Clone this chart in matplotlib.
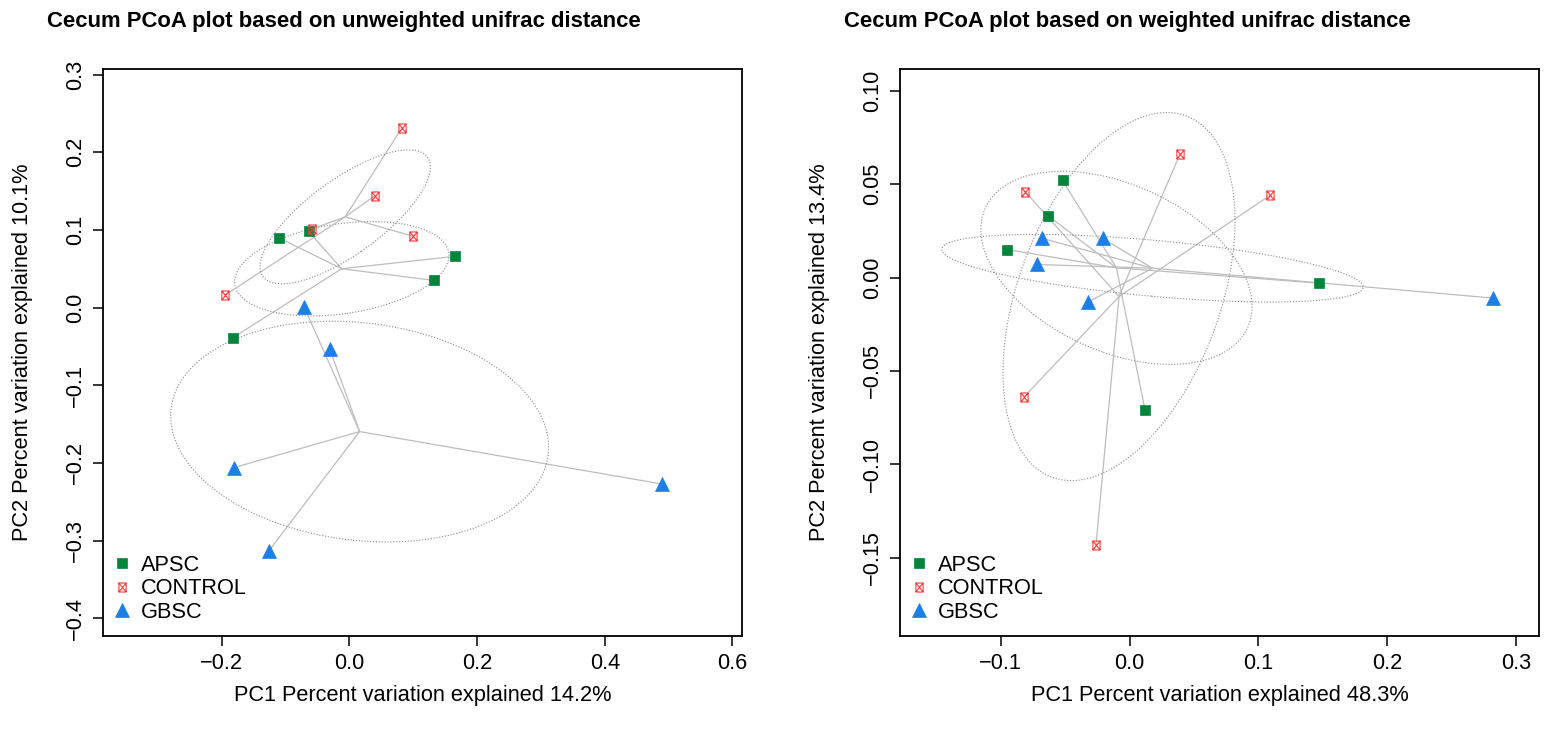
import numpy as np
import matplotlib
matplotlib.use("Agg")
import matplotlib.pyplot as plt
from matplotlib.path import Path
from matplotlib.lines import Line2D

plt.rcParams['font.family'] = ['Liberation Sans', 'DejaVu Sans']

groups = ["APSC", "CONTROL", "GBSC"]

# ---- Unweighted UniFrac PCoA (left) ----
uw_apsc_x = [-0.111, -0.064, 0.166, 0.132, -0.183]
uw_apsc_y = [0.090, 0.098, 0.066, 0.035, -0.039]
uw_ctrl_x = [0.082, 0.040, -0.059, 0.099, -0.195]
uw_ctrl_y = [0.231, 0.144, 0.101, 0.092, 0.016]
uw_gbsc_x = [-0.071, -0.031, -0.181, -0.126, 0.489]
uw_gbsc_y = [0.001, -0.053, -0.206, -0.313, -0.227]

# ---- Weighted UniFrac PCoA (right) ----
w_apsc_x = [-0.052, -0.063, -0.095, 0.147, 0.012]
w_apsc_y = [0.052, 0.033, 0.015, -0.003, -0.071]
w_ctrl_x = [-0.081, 0.039, 0.109, -0.082, -0.026]
w_ctrl_y = [0.046, 0.066, 0.044, -0.064, -0.143]
w_gbsc_x = [-0.068, -0.021, -0.072, -0.032, 0.282]
w_gbsc_y = [0.021, 0.021, 0.007, -0.013, -0.011]

titles = ["Cecum PCoA plot based on unweighted unifrac distance",
          "Cecum PCoA plot based on weighted unifrac distance"]
xlabels = ["PC1 Percent variation explained 14.2%",
           "PC1 Percent variation explained 48.3%"]
ylabels = ["PC2 Percent variation explained 10.1%",
           "PC2 Percent variation explained 13.4%"]
uw_xticks = [-0.2, 0.0, 0.2, 0.4, 0.6]
uw_yticks = [-0.4, -0.3, -0.2, -0.1, 0.0, 0.1, 0.2, 0.3]
w_xticks = [-0.1, 0.0, 0.1, 0.2, 0.3]
w_yticks = [-0.15, -0.10, -0.05, 0.00, 0.05, 0.10]

colors = {"APSC": "#06843C", "CONTROL": "#FF3A3A", "GBSC": "#1C7FE6"}

# custom "boxed X" marker (like R pch 7)
boxx = Path([(-0.8, -1), (0.8, -1), (0.8, 1), (-0.8, 1), (-0.8, -1),
             (-0.8, -1), (0.8, 1), (-0.8, 1), (0.8, -1)],
            [Path.MOVETO, Path.LINETO, Path.LINETO, Path.LINETO, Path.CLOSEPOLY,
             Path.MOVETO, Path.LINETO, Path.MOVETO, Path.LINETO])

mstyle = {
    "APSC": dict(marker="s", markersize=7.0, markerfacecolor=colors["APSC"],
                 markeredgecolor=colors["APSC"], markeredgewidth=0.5),
    "CONTROL": dict(marker=boxx, markersize=6.5, markerfacecolor="none",
                    markeredgecolor=colors["CONTROL"], markeredgewidth=0.8),
    "GBSC": dict(marker="^", markersize=10.0, markerfacecolor=colors["GBSC"],
                 markeredgecolor=colors["GBSC"], markeredgewidth=0.5),
}

def se_ellipse(X, conf=0.95, npts=200):
    X = np.asarray(X)
    n = X.shape[0]
    cov = np.cov(X.T) / n
    t = np.sqrt(-2 * np.log(1 - conf))
    vals, vecs = np.linalg.eigh(cov)
    th = np.linspace(0, 2 * np.pi, npts)
    circ = np.stack([np.cos(th), np.sin(th)])
    pts = vecs @ (np.sqrt(vals)[:, None] * circ) * t
    c = X.mean(axis=0)
    return c[0] + pts[0], c[1] + pts[1]

fig = plt.figure(figsize=(15.48, 7.44), dpi=100)
W, H = 1548, 744
boxes = [(103, 742), (900, 1539)]
top, bot = 69, 636
xlims = [(-0.386, 0.615), (-0.1781, 0.3176)]
ylims = [(-0.4227, 0.3071), (-0.1920, 0.1117)]
data = [
    {"APSC": (uw_apsc_x, uw_apsc_y), "CONTROL": (uw_ctrl_x, uw_ctrl_y), "GBSC": (uw_gbsc_x, uw_gbsc_y)},
    {"APSC": (w_apsc_x, w_apsc_y), "CONTROL": (w_ctrl_x, w_ctrl_y), "GBSC": (w_gbsc_x, w_gbsc_y)},
]
xt = [uw_xticks, w_xticks]
yt = [uw_yticks, w_yticks]
yfmt = ["{:.1f}", "{:.2f}"]
FS = 15.7

for i in range(2):
    l, r = boxes[i]
    ax = fig.add_axes([l / W, (H - bot) / H, (r - l) / W, (bot - top) / H])
    ax.set_xlim(*xlims[i])
    ax.set_ylim(*ylims[i])
    for g in groups:
        x, y = data[i][g]
        X = np.column_stack([x, y])
        cx, cy = X.mean(axis=0)
        for px, py in zip(x, y):
            ax.plot([cx, px], [cy, py], color="#BDBDBD", lw=0.9, zorder=2,
                    solid_capstyle="butt")
        ex, ey = se_ellipse(X)
        ax.plot(ex, ey, color="#8A8A8A", lw=0.8, linestyle=(0, (1, 1.6)), zorder=2)
    for g in groups:
        x, y = data[i][g]
        ax.plot(x, y, linestyle="none", zorder=3, **mstyle[g])
    ax.set_xticks(xt[i])
    ax.set_xticklabels([f"{v:.1f}".replace("-", "\u2212") for v in xt[i]])
    ax.set_yticks(yt[i])
    ax.set_yticklabels([yfmt[i].format(v).replace("-", "\u2212") for v in yt[i]],
                       rotation=90, va="center")
    ax.tick_params(direction="out", length=7, width=1.1, labelsize=FS, pad=5)
    for s in ax.spines.values():
        s.set_linewidth(1.3)
    ax.set_xlabel(xlabels[i], fontsize=FS, labelpad=8)
    ax.set_ylabel(ylabels[i], fontsize=FS, labelpad=23)
    fig.text((l - 56) / W, 1 - 22 / H, titles[i], fontsize=15.9, fontweight="bold",
             ha="left", va="center")
    handles = [Line2D([], [], linestyle="none", **mstyle[g]) for g in groups]
    ax.legend(handles, groups, loc="lower left", frameon=False, fontsize=FS,
              handlelength=0.8, handletextpad=0.5, labelspacing=0.12,
              borderaxespad=0.2, bbox_to_anchor=(-0.005, 0.0))

fig.savefig("out.png", dpi=100)
